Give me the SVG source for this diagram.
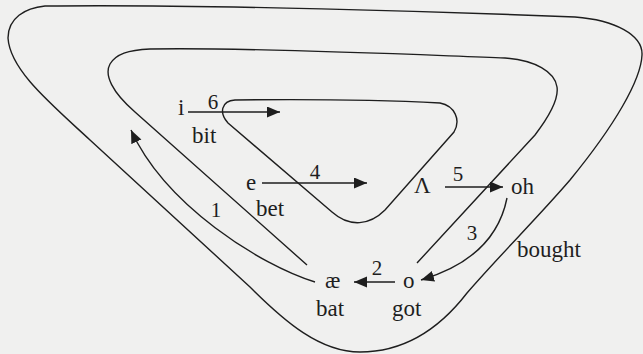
<svg xmlns="http://www.w3.org/2000/svg" width="643" height="354" viewBox="0 0 643 354">
  <style>
    .loop { fill: none; stroke: #1e1e1e; stroke-width: 1.4; }
    .arr { fill: none; stroke: #1e1e1e; stroke-width: 1.4; marker-end: url(#head); }
    text { font-family: "Liberation Serif", "Times New Roman", serif; font-size: 23px; fill: #1e1e1e; }
    .num { text-anchor: middle; font-size: 21px; }
  </style>
  <defs>
    <marker id="head" markerUnits="userSpaceOnUse" markerWidth="14" markerHeight="12" refX="13" refY="5.5" orient="auto">
      <path d="M0,0 L13,5.5 L0,11 Z" fill="#1e1e1e"/>
    </marker>
  </defs>
  <rect width="643" height="354" fill="#f0f0ef"/>

  <g id="loops">
    <path id="outer-loop" class="loop" d="M45,6 C200,4 450,12 575,17 C615,20 643,35 642,55 C641,80 615,125 570,180 C540,215 500,255 467,293 C440,328 405,352 360,352 C320,352 285,322 250,287 L90,140 C50,103 10,70 8,38 C8,18 25,8 45,6 Z"/>
    <path id="middle-loop" class="loop" d="M307,265 L135,112 C112,92 104,75 110,64 C116,54 128,50 150,49 C250,47 420,55 505,58 C535,60 555,72 557,87 C559,100 548,118 535,135 L417,263"/>
    <path id="inner-loop" class="loop" d="M235,100 C320,99 400,101 440,103 C455,106 461,120 454,132 L385,210 C370,225 350,228 332,212 L228,123 C219,113 221,101 235,100 Z"/>
  </g>

  <g id="connectors">
    <path id="arrow-1" class="arr" d="M315,282 C260,265 165,205 131,130"/>
    <path id="arrow-2" class="arr" d="M395,282 L354,282"/>
    <path id="arrow-3" class="arr" d="M507,198 Q495,258 421,280"/>
    <path id="arrow-4" class="arr" d="M262,183 L367,183"/>
    <path id="arrow-5" class="arr" d="M445,187 L503,187"/>
    <path id="arrow-6" class="arr" d="M188,112 L280,112"/>
  </g>

  <g id="labels">
    <text class="num" x="216" y="217">1</text>
    <text class="num" x="377" y="275">2</text>
    <text class="num" x="472" y="240">3</text>
    <text class="num" x="315" y="179">4</text>
    <text class="num" x="458" y="181">5</text>
    <text class="num" x="213" y="109">6</text>
  </g>

  <g id="node-i"><text x="178" y="115">i</text><text x="192" y="143">bit</text></g>
  <g id="node-e"><text x="246" y="190">e</text><text x="256" y="216">bet</text></g>
  <g id="node-ae"><text x="325" y="288">æ</text><text x="316" y="316">bat</text></g>
  <g id="node-o"><text x="403" y="288">o</text><text x="392" y="316">got</text></g>
  <g id="node-wedge"><text x="414" y="193">Λ</text></g>
  <g id="node-oh"><text x="511" y="194">oh</text></g>
  <g id="node-bought"><text x="517" y="257">bought</text></g>
</svg>
